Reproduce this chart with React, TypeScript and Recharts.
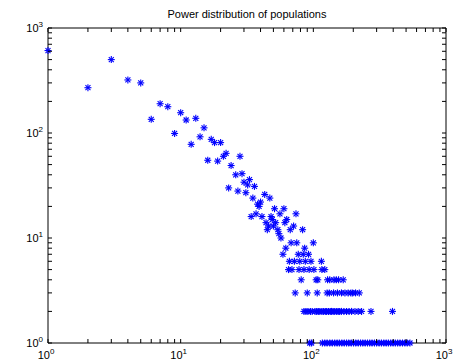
import React from "react";
import { ScatterChart, Scatter, XAxis, YAxis } from "recharts";

// scattered head of the distribution (value, count)
const headX = [
  1, 2, 3, 4, 5, 6, 7, 8, 9, 10, 11, 12, 13, 14, 15, 16, 17, 18, 19, 20, 21, 22,
  23, 24, 26, 27, 28, 29, 30, 31, 32, 33, 34, 35, 36, 37, 38, 39, 40, 41,
  43, 44, 45, 46, 47, 48, 49, 50, 51, 52, 54, 55, 56, 57, 60, 61, 62, 63,
  67, 68, 71, 74, 75, 83, 86, 100,
];
const headY = [
  610, 270, 500, 320, 300, 135, 190, 178, 99, 156, 133, 78, 138, 92, 112, 55, 87, 81, 54, 81, 60, 64,
  30, 49, 40, 28, 60, 41, 34, 27, 32, 36, 16, 24, 31, 17, 21, 20, 22, 16,
  26, 14, 12, 13, 24, 16, 15, 13, 19, 14, 12, 11, 17, 10, 19, 14, 8, 15,
  12, 9, 13, 17, 9, 12, 8, 9,
];

// tail: values that occur a small number of times
const sevens = [59, 77, 84, 92];
const sixes = [66, 72, 79, 87, 96, 115];
const fives = [65, 69, 78, 85, 93, 101, 116, 122];
const fours = [81, 105, 108, 128, 133, 143, 149, 155, 168];
const threes = [73, 90, 107, 127, 132, 142, 152, 163, 173, 183, 192, 198, 208, 222];
const twos = [
  85, 88, 91, 95, 98, 103, 106, 109, 112, 116, 119, 123, 126, 130, 134, 137, 141, 145,
  150, 154, 158, 163, 170, 178, 186, 194, 206, 218, 231, 272, 395,
];
const ones = [
  94, 97, 117, 122, 127, 133, 139, 145, 151, 157, 164, 171, 178, 185, 193, 201, 209, 218,
  227, 236, 246, 256, 266, 277, 289, 300, 313, 326, 340, 354, 368, 383, 399, 415, 432,
  450, 470, 490, 510, 535,
];

const logTicks = [
  1, 2, 3, 4, 5, 6, 7, 8, 9, 10, 20, 30, 40, 50, 60, 70, 80, 90,
  100, 200, 300, 400, 500, 600, 700, 800, 900, 1000,
];
const majorExp: Record<number, string> = { 1: "0", 10: "1", 100: "2", 1000: "3" };

const data = [
  ...headX.map((x, i) => ({ x, y: headY[i] })),
  ...sevens.map((x) => ({ x, y: 7 })),
  ...sixes.map((x) => ({ x, y: 6 })),
  ...fives.map((x) => ({ x, y: 5 })),
  ...fours.map((x) => ({ x, y: 4 })),
  ...threes.map((x) => ({ x, y: 3 })),
  ...twos.map((x) => ({ x, y: 2 })),
  ...ones.map((x) => ({ x, y: 1 })),
];

const FONT = "'Liberation Sans', Arial, Helvetica, sans-serif";
const TICK_LEN = 4;

const Label = ({ x, y, exp, anchor }: any) => (
  <text x={x} y={y} textAnchor={anchor} fontFamily={FONT} fontSize={11} fill="#000">
    10
    <tspan dy={-5} fontSize={8}>
      {exp}
    </tspan>
  </text>
);

const BottomTick = (props: any) => {
  const { x, y, payload } = props;
  const exp = majorExp[payload.value];
  return (
    <g>
      <line x1={x} x2={x} y1={y} y2={y - TICK_LEN} stroke="#000" />
      {exp && <Label x={x - 2} y={y + 16} exp={exp} anchor="middle" />}
    </g>
  );
};

const TopTick = (props: any) => {
  const { x, y } = props;
  return <line x1={x} x2={x} y1={y} y2={y + TICK_LEN} stroke="#000" />;
};

const LeftTick = (props: any) => {
  const { x, y, payload } = props;
  const exp = majorExp[payload.value];
  return (
    <g>
      <line x1={x} x2={x + TICK_LEN} y1={y} y2={y} stroke="#000" />
      {exp && <Label x={x - 5} y={y + 4} exp={exp} anchor="end" />}
    </g>
  );
};

const RightTick = (props: any) => {
  const { x, y } = props;
  return <line x1={x} x2={x - TICK_LEN} y1={y} y2={y} stroke="#000" />;
};

const Asterisk = (props: any) => {
  const { cx, cy } = props;
  const r = 3.5;
  const d = 2.5;
  return (
    <g stroke="#0000ff" strokeWidth={1.1}>
      <line x1={cx - r} x2={cx + r} y1={cy} y2={cy} />
      <line x1={cx} x2={cx} y1={cy - r} y2={cy + r} />
      <line x1={cx - d} x2={cx + d} y1={cy - d} y2={cy + d} />
      <line x1={cx - d} x2={cx + d} y1={cy + d} y2={cy - d} />
    </g>
  );
};

const Nothing = () => <g />;

export default function App() {
  return (
    <div style={{ position: "absolute", left: 0, top: 0, width: 457, height: 361, background: "#fff" }}>
      <div
        style={{
          position: "absolute",
          top: 9,
          left: 48,
          width: 398,
          textAlign: "center",
          fontFamily: FONT,
          fontSize: 11,
          lineHeight: "11px",
          color: "#000",
        }}
      >
        Power distribution of populations
      </div>
      <ScatterChart width={457} height={361} margin={{ top: 27, right: 10, bottom: 0, left: 0 }}>
        <XAxis
          xAxisId="bottom"
          dataKey="x"
          type="number"
          scale="log"
          domain={[1, 1000]}
          ticks={logTicks}
          interval={0}
          height={18}
          tickSize={0}
          tickMargin={0}
          axisLine={{ stroke: "#000" }}
          tick={<BottomTick />}
        />
        <XAxis
          xAxisId="top"
          dataKey="x"
          orientation="top"
          type="number"
          scale="log"
          domain={[1, 1000]}
          ticks={logTicks}
          interval={0}
          height={1}
          tickSize={0}
          tickMargin={0}
          axisLine={{ stroke: "#000" }}
          tick={<TopTick />}
        />
        <YAxis
          yAxisId="left"
          dataKey="y"
          type="number"
          scale="log"
          domain={[1, 1000]}
          ticks={logTicks}
          interval={0}
          width={48}
          tickSize={0}
          tickMargin={0}
          axisLine={{ stroke: "#000" }}
          tick={<LeftTick />}
        />
        <YAxis
          yAxisId="right"
          dataKey="y"
          orientation="right"
          type="number"
          scale="log"
          domain={[1, 1000]}
          ticks={logTicks}
          interval={0}
          width={1}
          tickSize={0}
          tickMargin={0}
          axisLine={{ stroke: "#000" }}
          tick={<RightTick />}
        />
        <Scatter
          data={data}
          xAxisId="top"
          yAxisId="right"
          shape={<Nothing />}
          isAnimationActive={false}
        />
        <Scatter
          data={data}
          xAxisId="bottom"
          yAxisId="left"
          shape={<Asterisk />}
          isAnimationActive={false}
        />
      </ScatterChart>
    </div>
  );
}
